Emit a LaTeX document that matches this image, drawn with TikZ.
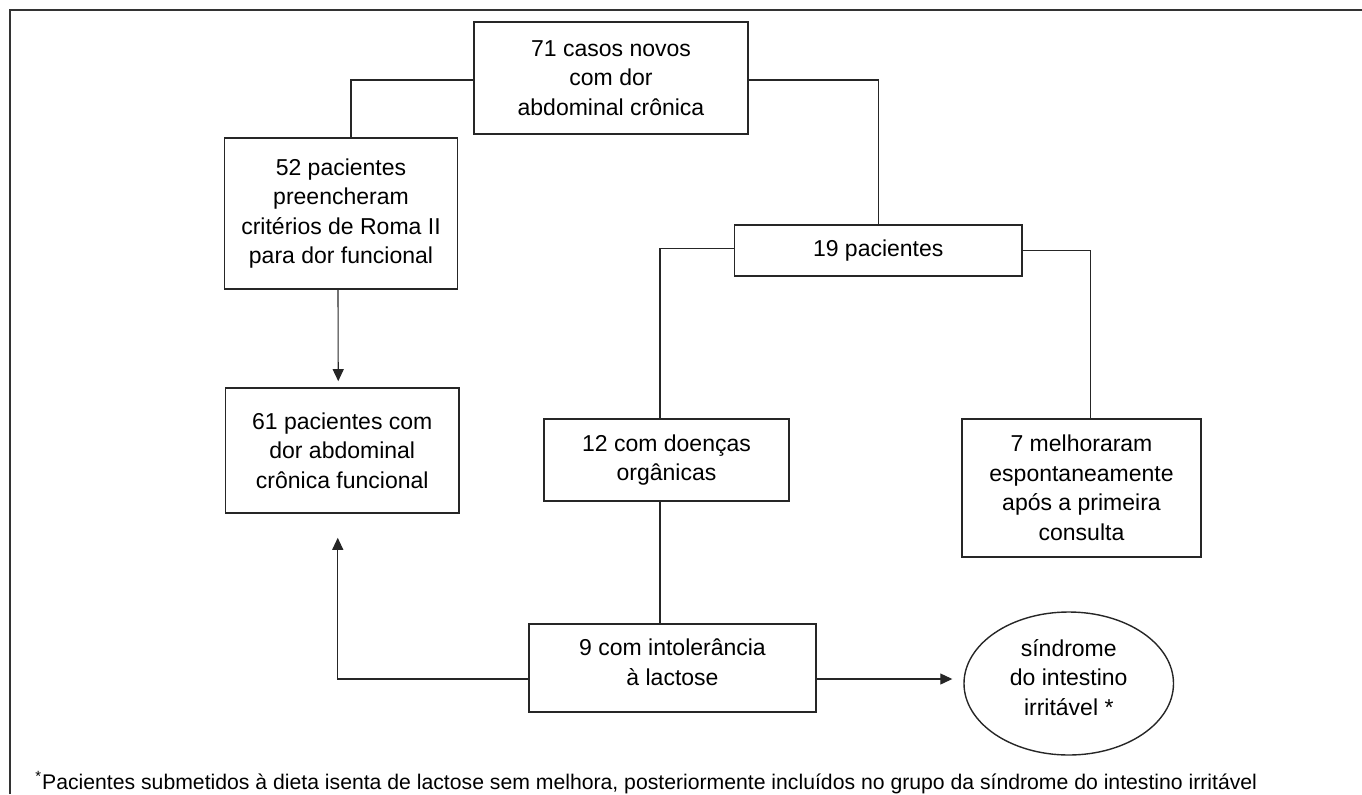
\documentclass[tikz,border=0pt]{standalone}
\usepackage{fontspec}
\setmainfont{Liberation Sans}
\usetikzlibrary{arrows.meta,shapes.geometric,calc}
\tikzset{
  boxtext/.style={align=center, font=\fontsize{11.5}{14.75}\selectfont},
  box/.style={draw=black!85, line width=0.8pt, inner sep=0pt, boxtext},
  oval/.style={ellipse, draw=black!85, line width=0.7pt, inner sep=0pt, boxtext},
  link/.style={draw=black!85, line width=0.55pt},
  arr/.style={link, -{Triangle[length=6pt,width=5.5pt]}},
  frame/.style={draw=black!80, line width=1pt}
}
\begin{document}
\begin{tikzpicture}[x=0.5pt,y=-0.5pt]
\useasboundingbox (0,0) rectangle (1362,794);
\draw[frame] (10,794) -- (10,10) -- (1362,10);

\node[box, minimum width=137pt, minimum height=56pt] (top) at (611,78)
  {71 casos novos\\com dor\\abdominal crônica};
\node[box, minimum width=116.5pt, minimum height=75.5pt] (b52) at (341,213.5)
  {52 pacientes\\preencheram\\critérios de Roma II\\para dor funcional};
\node[box, minimum width=116.75pt, minimum height=62.5pt] (b61) at (342.25,450.5)
  {61 pacientes com\\dor abdominal\\crônica funcional};
\node[box, minimum width=143.75pt, minimum height=25.5pt] (b19) at (878.25,250.5)
  {19 pacientes};
\node[box, minimum width=122.5pt, minimum height=41pt] (b12) at (666.5,460)
  {12 com doenças\\orgânicas};
\node[box, minimum width=119.5pt, minimum height=69pt] (b7) at (1081.5,488)
  {7 melhoraram\\espontaneamente\\após a primeira\\consulta};
\node[box, minimum width=143.5pt, minimum height=44pt,
  label={[boxtext, yshift=3pt]center:9 com intolerância\\à lactose}] (b9) at (672.5,668) {};
\node[oval, minimum width=104.75pt, minimum height=71.5pt,
  label={[boxtext, yshift=3pt]center:síndrome\\do intestino\\irritável *}] (ell) at (1068.75,683.5) {};

\node[anchor=base west, inner sep=0pt, font=\fontsize{10.6}{12}\selectfont] (note) at (35,789.5)
  {\textsuperscript{*}Pacientes submetidos à dieta isenta de lactose sem melhora, posteriormente incluídos no grupo da síndrome do intestino irritável};

\draw[link] ([yshift=-1pt]top.west) -| ([xshift=5pt]b52.north);
\draw[link] ([yshift=-1pt]top.east) -| (b19.north);
\draw[link] ([yshift=1pt]b19.west) -| ([xshift=-3.25pt]b12.north);
\draw[link] (b19.east) -| ([xshift=4.5pt]b7.north);
\draw[arr] ([xshift=-1.5pt]b52.south) -- ([xshift=-2pt,yshift=3pt]b61.north);
\draw[link] ([xshift=-3.25pt]b12.south) -- ([xshift=-3.25pt]b12.south |- b9.north);
\draw[arr] ([yshift=-5.5pt]b9.west) -| ([xshift=-2.25pt,yshift=-12pt]b61.south);
\draw[arr, shorten >=5.5pt] ([yshift=-5.5pt]b9.east) -- ([yshift=-5.5pt]b9.east -| ell.west);
\end{tikzpicture}
\end{document}
